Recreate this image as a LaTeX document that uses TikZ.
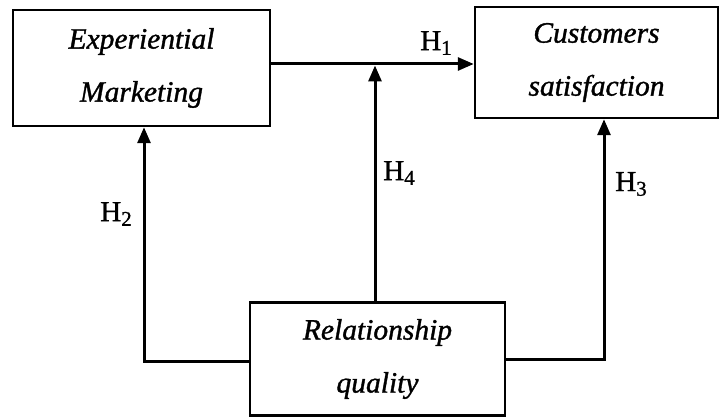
\documentclass[tikz,border=0pt]{standalone}
\usepackage{fontspec}
\setmainfont{Liberation Serif}[FakeBold=1.2]
\usetikzlibrary{arrows.meta}
\tikzset{
  box/.style={draw, line width=2.5pt, align=center, inner sep=0pt,
    font=\fontsize{29.5}{53}\selectfont\itshape},
  conn/.style={line width=3pt},
  arr/.style={conn, -{Triangle[length=16pt,width=13pt]}},
  hlab/.style={font=\fontsize{29}{29}\selectfont, inner sep=0pt}
}
\newcommand{\hyp}[1]{H\raisebox{-0.35ex}{\fontsize{21}{21}\selectfont #1}}
\begin{document}
\begin{tikzpicture}[x=1pt,y=1pt]
\useasboundingbox (0,0) rectangle (721,418);
\node[box, minimum width=257pt, minimum height=116pt] (em) at (141.5,350) {Experiential\\Marketing};
\node[box, minimum width=243pt, minimum height=111pt] (cs) at (596.5,355.5) {Customers\\satisfaction};
\node[box, minimum width=255pt, minimum height=113pt] (rq) at (377.5,59) {Relationship\\quality};
\coordinate (j) at (375,354);
\coordinate (l) at (144,56);
\coordinate (r) at (604,58);
\draw[arr] (em.east |- j) -- (cs.west |- j);
\draw[arr] (j |- rq.north) -- ([yshift=-1.5pt]j);
\draw[arr] (rq.west |- l) -- (l) -- (l |- em.south);
\draw[arr] (rq.east |- r) -- (r) -- (r |- cs.south);
\node[hlab] (h1) at (436,375) {\hyp{1}};
\node[hlab] (h4) at (399,245) {\hyp{4}};
\node[hlab] (h2) at (116,204) {\hyp{2}};
\node[hlab] (h3) at (631,234) {\hyp{3}};
\end{tikzpicture}
\end{document}
